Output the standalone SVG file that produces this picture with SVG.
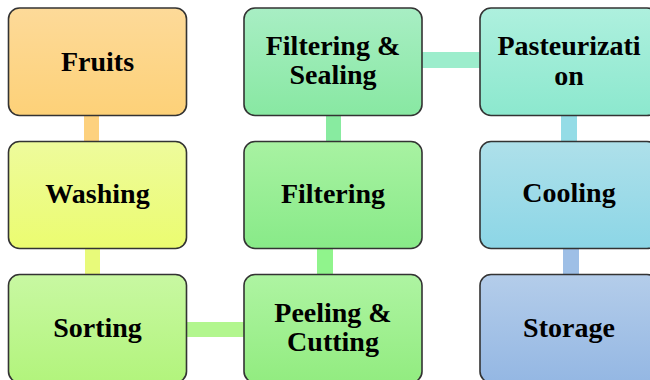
<svg xmlns="http://www.w3.org/2000/svg" width="650" height="380" viewBox="0 0 650 380">
  <style>
    .box { stroke: #333333; stroke-width: 1.6; }
    .lbl { font-family: "Liberation Serif", "Times New Roman", serif; font-weight: bold; font-size: 28px; fill: #000000; text-anchor: middle; }
  </style>
  <defs>
    <linearGradient id="gFruits" x1="0" y1="0" x2="0" y2="1"><stop offset="0" stop-color="#FDDA99"/><stop offset="1" stop-color="#FDD178"/></linearGradient>
    <linearGradient id="gWashing" x1="0" y1="0" x2="0" y2="1"><stop offset="0" stop-color="#EEFB9C"/><stop offset="1" stop-color="#EBFC70"/></linearGradient>
    <linearGradient id="gSorting" x1="0" y1="0" x2="0" y2="1"><stop offset="0" stop-color="#C8F8A2"/><stop offset="1" stop-color="#B2F47C"/></linearGradient>
    <linearGradient id="gPeeling" x1="0" y1="0" x2="0" y2="1"><stop offset="0" stop-color="#AEF4A2"/><stop offset="1" stop-color="#92EC80"/></linearGradient>
    <linearGradient id="gFiltering" x1="0" y1="0" x2="0" y2="1"><stop offset="0" stop-color="#A8F2A2"/><stop offset="1" stop-color="#88EA88"/></linearGradient>
    <linearGradient id="gSealing" x1="0" y1="0" x2="0" y2="1"><stop offset="0" stop-color="#A8EEC4"/><stop offset="1" stop-color="#88E8A2"/></linearGradient>
    <linearGradient id="gPast" x1="0" y1="0" x2="0" y2="1"><stop offset="0" stop-color="#AEF0DE"/><stop offset="1" stop-color="#8CE8CE"/></linearGradient>
    <linearGradient id="gCooling" x1="0" y1="0" x2="0" y2="1"><stop offset="0" stop-color="#AEE0EA"/><stop offset="1" stop-color="#8CD6E6"/></linearGradient>
    <linearGradient id="gStorage" x1="0" y1="0" x2="0" y2="1"><stop offset="0" stop-color="#B4CDEA"/><stop offset="1" stop-color="#94B7E3"/></linearGradient>
  </defs>

  <!-- connectors: thick flat bars between neighbouring steps -->
  <g id="connectors">
    <rect x="84" y="115" width="15" height="27" fill="#FDD17E"/>
    <rect x="85" y="248" width="15" height="27" fill="#E8FA7A"/>
    <rect x="186" y="322" width="58" height="15" fill="#B2F68E"/>
    <rect x="317" y="248" width="16" height="27" fill="#90F48C"/>
    <rect x="326" y="115" width="15" height="27" fill="#88EBA0"/>
    <rect x="422" y="52" width="58" height="16" fill="#9CEDCC"/>
    <rect x="561" y="115" width="16" height="27" fill="#94DCE6"/>
    <rect x="563" y="248" width="16" height="27" fill="#9EBFE6"/>
  </g>

  <g id="fruits">
    <rect class="box" x="8.5" y="8" width="178" height="107.5" rx="11" fill="url(#gFruits)"/>
    <text class="lbl" x="97.5" y="71">Fruits</text>
  </g>
  <g id="washing">
    <rect class="box" x="8.5" y="141.5" width="178" height="107" rx="11" fill="url(#gWashing)"/>
    <text class="lbl" x="97.5" y="203">Washing</text>
  </g>
  <g id="sorting">
    <rect class="box" x="8.5" y="274.5" width="178" height="108" rx="11" fill="url(#gSorting)"/>
    <text class="lbl" x="97.5" y="337">Sorting</text>
  </g>
  <g id="peeling-cutting">
    <rect class="box" x="244" y="274.5" width="178" height="108" rx="11" fill="url(#gPeeling)"/>
    <text class="lbl" x="333" y="322">Peeling &amp;</text>
    <text class="lbl" x="333" y="351">Cutting</text>
  </g>
  <g id="filtering">
    <rect class="box" x="244" y="141.5" width="178" height="107" rx="11" fill="url(#gFiltering)"/>
    <text class="lbl" x="333" y="203">Filtering</text>
  </g>
  <g id="filtering-sealing">
    <rect class="box" x="244" y="8" width="178" height="107.5" rx="11" fill="url(#gSealing)"/>
    <text class="lbl" x="333" y="55">Filtering &amp;</text>
    <text class="lbl" x="333" y="84">Sealing</text>
  </g>
  <g id="pasteurization">
    <rect class="box" x="480" y="8" width="178" height="107.5" rx="11" fill="url(#gPast)"/>
    <text class="lbl" x="569" y="55">Pasteurizati</text>
    <text class="lbl" x="569" y="85">on</text>
  </g>
  <g id="cooling">
    <rect class="box" x="480" y="141.5" width="178" height="107" rx="11" fill="url(#gCooling)"/>
    <text class="lbl" x="569" y="202">Cooling</text>
  </g>
  <g id="storage">
    <rect class="box" x="480" y="274.5" width="178" height="108" rx="11" fill="url(#gStorage)"/>
    <text class="lbl" x="569" y="337">Storage</text>
  </g>
</svg>
